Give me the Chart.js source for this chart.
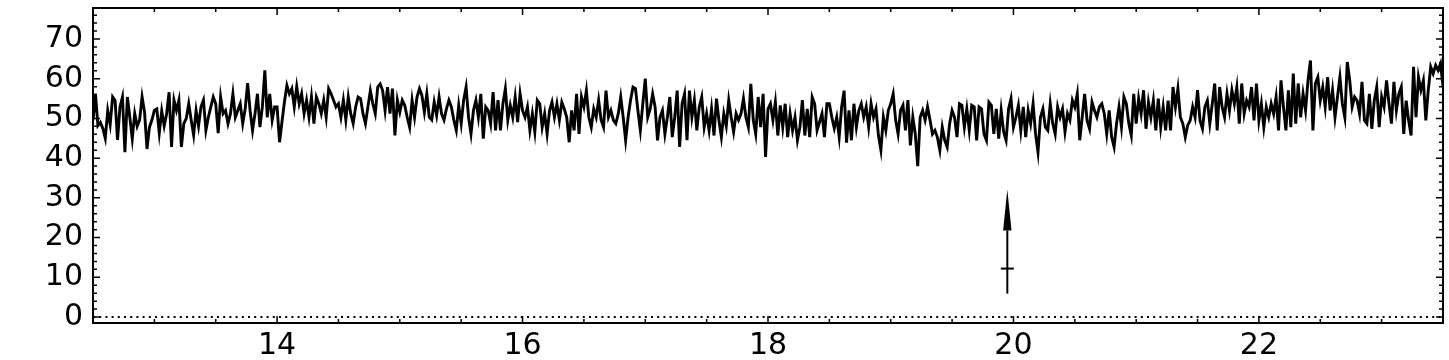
<!DOCTYPE html>
<html><head><meta charset="utf-8">
<script src="https://cdn.jsdelivr.net/npm/chart.js@4.4.1/dist/chart.umd.min.js"></script>
<style>html,body{margin:0;padding:0;background:#fff;overflow:hidden}canvas{display:block}</style>
</head><body>
<canvas id="c" width="1449" height="360"></canvas>
<script>
const xStart = 12.5, xEnd = 23.5;
const yMin = -1.5, yMax = 77.8;
const signalValues = [
49.5,56.2,48.2,49.0,47.5,45.0,52.0,48.5,55.4,54.5,44.6,52.9,55.4,41.5,55.4,50.3,44.9,51.2,48.0,49.6,55.4,51.6,42.3,47.8,49.6,
52.0,52.4,46.3,51.9,48.1,51.2,56.6,42.8,54.6,52.0,54.6,42.8,48.7,50.0,53.7,49.6,45.8,52.0,48.1,52.9,54.6,47.0,50.3,52.9,55.4,
53.7,46.3,55.4,51.2,52.0,48.7,51.2,56.2,50.3,52.0,53.7,48.7,52.4,58.9,52.0,47.0,51.2,56.2,47.8,52.9,62.1,50.3,56.2,49.6,52.9,
52.9,44.0,49.2,54.2,58.3,56.2,57.5,52.9,58.0,53.7,56.2,51.2,54.6,50.3,55.4,48.7,55.4,53.7,51.2,54.6,50.3,57.5,56.2,54.6,52.9,
53.7,50.3,54.6,49.6,55.4,51.2,48.7,52.9,55.4,55.0,51.2,48.7,52.9,57.0,53.7,51.2,57.9,58.7,57.0,52.0,57.9,51.2,57.5,45.7,54.6,
51.6,54.6,53.3,50.3,47.8,54.6,50.3,55.4,57.5,55.8,51.6,56.2,50.3,49.6,54.1,50.8,55.4,51.2,49.6,52.4,54.6,52.9,49.6,47.0,53.3,
48.7,54.6,57.9,50.3,46.1,52.0,54.6,50.3,56.2,44.9,52.9,52.0,48.7,56.6,47.0,54.6,47.0,53.7,57.5,49.6,53.3,50.3,55.4,49.1,56.2,
52.0,50.3,52.9,47.0,51.2,46.6,54.6,53.7,47.8,51.2,46.1,52.0,54.1,50.3,53.7,49.6,54.1,52.4,50.3,44.0,52.0,47.0,56.2,46.1,55.4,
52.9,57.0,50.3,47.8,52.4,50.3,54.6,49.6,47.8,57.0,50.3,52.0,49.6,48.7,51.2,55.4,50.3,44.5,50.3,54.6,57.9,57.5,52.0,47.0,53.7,
60.0,50.3,52.4,56.2,52.9,44.5,50.3,52.0,46.1,50.3,55.4,45.3,50.3,57.0,42.8,53.7,56.2,44.5,57.0,50.3,54.6,47.0,52.9,55.4,47.8,
51.2,47.0,52.4,45.7,55.0,49.6,45.3,51.2,48.1,54.6,50.3,46.6,51.2,49.6,51.2,55.0,50.3,47.8,58.7,49.6,46.1,55.4,47.8,56.2,40.3,
52.4,53.7,49.6,54.1,45.7,53.3,47.8,53.7,45.3,51.2,47.0,50.3,44.5,47.8,54.6,45.7,52.4,45.3,55.4,53.7,47.0,49.1,51.2,45.3,53.7,
53.7,50.3,47.5,50.3,45.3,52.9,57.0,43.9,52.0,44.5,53.7,47.8,52.0,53.7,50.3,52.9,47.8,53.7,50.3,52.4,45.7,42.0,50.3,47.0,52.0,
53.7,56.2,49.6,46.1,52.0,53.3,47.0,54.6,43.2,50.3,46.1,38.0,50.3,52.0,49.6,52.9,49.6,46.1,47.0,45.3,42.0,47.8,44.5,42.8,48.7,
52.0,50.3,45.3,53.7,53.3,47.8,52.4,47.0,53.3,52.9,44.5,52.9,52.4,46.1,44.5,54.1,53.3,46.1,52.4,44.9,52.0,46.6,44.5,52.4,55.0,
47.8,50.3,53.3,47.0,52.9,45.3,52.0,48.7,53.7,46.1,41.5,50.3,52.4,47.8,47.0,53.7,48.7,46.1,52.9,50.3,52.4,46.6,51.2,49.6,54.6,
52.9,56.2,44.5,50.3,56.2,49.5,47.4,54.1,52.0,50.3,52.9,53.7,51.2,46.1,52.0,45.3,42.8,48.7,52.9,47.8,55.4,53.7,48.7,45.7,56.2,
48.7,55.0,51.2,57.1,47.4,54.1,50.3,54.5,47.0,55.0,47.8,52.9,47.0,54.5,47.0,57.9,52.9,57.5,50.3,48.7,45.3,48.3,49.5,52.9,50.3,
57.1,49.5,47.4,52.9,54.5,48.7,53.7,58.8,47.0,57.9,52.9,50.3,56.2,52.0,57.1,53.7,57.9,48.7,58.8,51.2,54.5,52.9,57.9,49.5,58.8,
49.5,53.7,47.8,52.9,50.3,53.7,51.2,55.4,47.0,59.6,52.9,47.0,57.1,47.8,61.3,48.7,58.8,50.3,56.2,52.0,59.6,64.6,47.0,58.8,60.4,
54.5,57.9,52.9,60.4,52.0,57.1,50.3,55.4,60.4,53.7,50.3,64.2,59.6,52.9,55.4,54.5,51.2,59.2,49.5,48.7,56.2,47.4,54.5,57.9,47.8,
55.4,52.9,59.6,53.7,48.7,59.2,52.0,56.2,57.9,46.1,54.5,49.5,45.7,63.0,50.3,60.4,57.1,59.6,49.5,57.1,63.0,61.3,63.4,62.1,63.8,58.0
];
const xTickValues = [14, 16, 18, 20, 22];
const xTickLabels = ['14', '16', '18', '20', '22'];
const yTickValues = [0, 10, 20, 30, 40, 50, 60, 70];
const yTickLabels = ['0', '10', '20', '30', '40', '50', '60', '70'];
const baselineValue = 0;
const arrowX = 19.95, arrowBottom = 5.9, arrowMark = 12.2, arrowHeadBase = 21.8, arrowTip = 32.1;

const xStep = (xEnd - xStart) / (signalValues.length - 1);
const signalPoints = signalValues.map((v, i) => ({ x: xStart + i * xStep, y: v }));
const baselinePoints = [{ x: xStart, y: baselineValue }, { x: xEnd, y: baselineValue }];

const tickFont = { family: 'DejaVu Sans', size: 30 };

const framePlugin = {
  id: 'frameTicks',
  afterDatasetsDraw(chart) {
    const { ctx, chartArea: a, scales: { x, y } } = chart;
    ctx.save();
    ctx.strokeStyle = '#000';
    ctx.fillStyle = '#000';
    const ax = x.getPixelForValue(arrowX);
    ctx.lineWidth = 2;
    ctx.beginPath();
    ctx.moveTo(ax, y.getPixelForValue(arrowBottom));
    ctx.lineTo(ax, y.getPixelForValue(arrowHeadBase));
    ctx.stroke();
    ctx.beginPath();
    ctx.moveTo(ax, y.getPixelForValue(arrowTip));
    ctx.lineTo(ax - 4.2, y.getPixelForValue(arrowHeadBase));
    ctx.lineTo(ax + 4.2, y.getPixelForValue(arrowHeadBase));
    ctx.closePath();
    ctx.fill();
    ctx.beginPath();
    const my = y.getPixelForValue(arrowMark);
    ctx.moveTo(ax - 6.5, my);
    ctx.lineTo(ax + 6.5, my);
    ctx.stroke();
    ctx.lineWidth = 1.5;
    ctx.beginPath();
    for (let k = 0; k <= 22; k++) {
      const v = xStart + k * 0.5;
      const px = x.getPixelForValue(v);
      const len = xTickValues.includes(v) ? 7 : 4;
      ctx.moveTo(px, a.bottom); ctx.lineTo(px, a.bottom - len);
      ctx.moveTo(px, a.top); ctx.lineTo(px, a.top + len);
    }
    for (let k = 0; k <= 38; k++) {
      const v = k * 2;
      const py = y.getPixelForValue(v);
      const len = yTickValues.includes(v) ? 7 : 4;
      ctx.moveTo(a.left, py); ctx.lineTo(a.left + len, py);
      ctx.moveTo(a.right, py); ctx.lineTo(a.right - len, py);
    }
    ctx.stroke();
    ctx.lineWidth = 2;
    ctx.strokeRect(a.left, a.top, a.right - a.left, a.bottom - a.top);
    ctx.restore();
  }
};

new Chart(document.getElementById('c'), {
  type: 'line',
  data: {
    datasets: [
      { data: signalPoints, borderColor: '#000', borderWidth: 2.9, pointRadius: 0, tension: 0, fill: false, borderJoinStyle: 'miter' },
      { data: baselinePoints, borderColor: '#000', borderWidth: 2, borderDash: [2, 4.2], pointRadius: 0, fill: false }
    ]
  },
  options: {
    responsive: false,
    animation: false,
    devicePixelRatio: 1,
    layout: { padding: { top: 8, right: 6, left: 0, bottom: 0 } },
    plugins: { legend: { display: false }, tooltip: { enabled: false } },
    scales: {
      x: {
        type: 'linear', min: xStart, max: xEnd,
        grid: { display: false, drawTicks: false },
        border: { display: false },
        afterBuildTicks: s => { s.ticks = xTickValues.map(v => ({ value: v })); },
        afterFit: s => { s.height = 37; s.paddingLeft = 0; s.paddingRight = 0; s.paddingTop = 0; s.paddingBottom = 0; },
        ticks: {
          font: tickFont, color: '#000', padding: 5, maxRotation: 0, autoSkip: false,
          callback: v => xTickLabels[xTickValues.indexOf(v)]
        }
      },
      y: {
        type: 'linear', min: yMin, max: yMax,
        grid: { display: false, drawTicks: false },
        border: { display: false },
        afterBuildTicks: s => { s.ticks = yTickValues.map(v => ({ value: v })); },
        afterFit: s => { s.width = 93; s.paddingTop = 0; s.paddingBottom = 0; s.paddingLeft = 0; s.paddingRight = 0; },
        ticks: {
          font: tickFont, color: '#000', padding: 10, autoSkip: false,
          callback: v => yTickLabels[yTickValues.indexOf(v)]
        }
      }
    }
  },
  plugins: [framePlugin]
});
</script>
</body></html>
